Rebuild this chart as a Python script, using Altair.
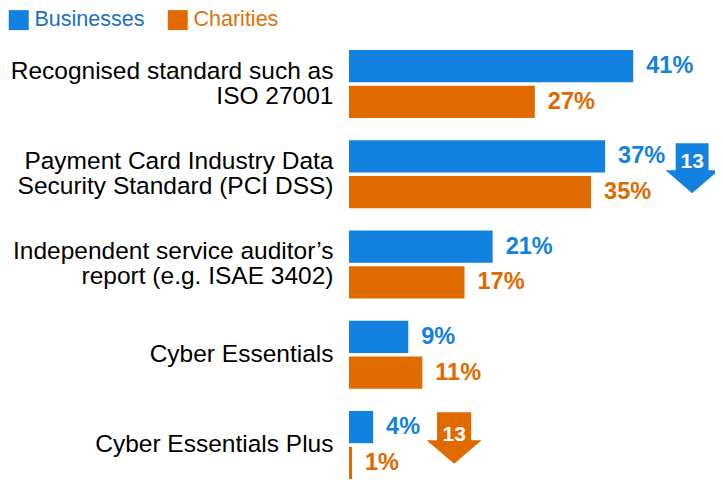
import altair as alt
import pandas as pd

# ---- data ----
categories = [
    "Recognised standard such as|ISO 27001",
    "Payment Card Industry Data|Security Standard (PCI DSS)",
    "Independent service auditor’s|report (e.g. ISAE 3402)",
    "Cyber Essentials",
    "Cyber Essentials Plus",
]
series = ["Businesses", "Charities"]
businesses = [41, 37, 21, 9, 4]
charities = [27, 35, 17, 11, 1]

arrow_category = [categories[1], categories[4]]
arrow_series = ["Businesses", "Charities"]
arrow_change = [13, 13]

BLUE = "#1381E0"
ORANGE = "#E06A00"
FONT = "Liberation Sans"
XMAX = 52.63

rows = []
for c, b, ch in zip(categories, businesses, charities):
    rows.append({"category": c, "series": "Businesses", "value": b, "label": f"{b}%"})
    rows.append({"category": c, "series": "Charities", "value": ch, "label": f"{ch}%"})
df = pd.DataFrame(rows)

arrows = pd.DataFrame({
    "category": arrow_category,
    "series": arrow_series,
    "change": [str(v) for v in arrow_change],
    "anchor": [businesses[categories.index(c)] for c in arrow_category],
})

color_scale = alt.Scale(domain=series, range=[BLUE, ORANGE])
y_enc = alt.Y(
    "category:N",
    sort=categories,
    scale=alt.Scale(range=[0, 429], paddingInner=0.2465, paddingOuter=0),
    axis=alt.Axis(
        title=None, domain=False, ticks=False, grid=False,
        labelExpr="split(datum.label, '|')",
        labelOffset=alt.expr("indexof(datum.value, '|') >= 0 ? -12.5 : 0"),
        labelFontSize=24.5, labelFont=FONT, labelColor="black",
        labelPadding=12, labelLimit=400, labelLineHeight=25,
    ),
)
yoff_enc = alt.YOffset("series:N", sort=series,
                       scale=alt.Scale(paddingInner=0.1, paddingOuter=0))
x_enc = alt.X("value:Q", scale=alt.Scale(domain=[0, XMAX]), axis=None)

bars = alt.Chart(df).mark_bar(x2Offset=4).encode(
    x=x_enc,
    x2=alt.datum(0),
    y=y_enc,
    yOffset=yoff_enc,
    color=alt.Color(
        "series:N", scale=color_scale,
        legend=alt.Legend(
            title=None, orient="none", legendX=-337, legendY=-41,
            direction="horizontal", symbolType="square", symbolSize=400,
            symbolStrokeWidth=0, labelFontSize=21.5, labelFont=FONT,
            labelOffset=5, columnPadding=22, padding=0,
            labelColor=alt.expr("datum.label == 'Businesses' ? '#1A70C6' : '#E0700A'"),
        ),
    ),
)

labels = alt.Chart(df).mark_text(
    align="left", baseline="middle", dx=13, fontSize=23.5,
    fontWeight="bold", font=FONT,
).encode(
    x=x_enc, y=y_enc, yOffset=yoff_enc, text="label:N",
    color=alt.Color("series:N", scale=color_scale, legend=None),
)

ARROW = "M -0.62 -0.94 L 0.62 -0.94 L 0.62 0.08 L 1 0.08 L 0 0.94 L -1 0.08 L -0.62 0.08 Z"

def arrow_layer(i, x_off, y_off, txt_off, col, size):
    d = arrows.iloc[[i]]
    ax = alt.X("anchor:Q", scale=alt.Scale(domain=[0, XMAX]), axis=None)
    shape = alt.Chart(d).mark_point(
        shape=ARROW, size=size, filled=True, opacity=1, strokeWidth=0,
        color=col, xOffset=x_off, yOffset=y_off,
    ).encode(x=ax, y=y_enc)
    txt = alt.Chart(d).mark_text(
        color="white", fontSize=21, fontWeight="bold", font=FONT,
        baseline="middle", align="center", xOffset=x_off, yOffset=txt_off,
    ).encode(x=ax, y=y_enc, text="change:N")
    return shape + txt

chart = alt.layer(
    bars, labels,
    arrow_layer(0, 87, -6, -12, BLUE, 2809),
    arrow_layer(1, 81, -7, -10, ORANGE, 3025),
).properties(
    width=370, height=430,
    padding={"left": 337, "top": 42, "right": 0, "bottom": 0},
    autosize="none",
).configure_view(stroke=None)

chart.save("out.html", embed_options={"renderer": "svg", "actions": False})
